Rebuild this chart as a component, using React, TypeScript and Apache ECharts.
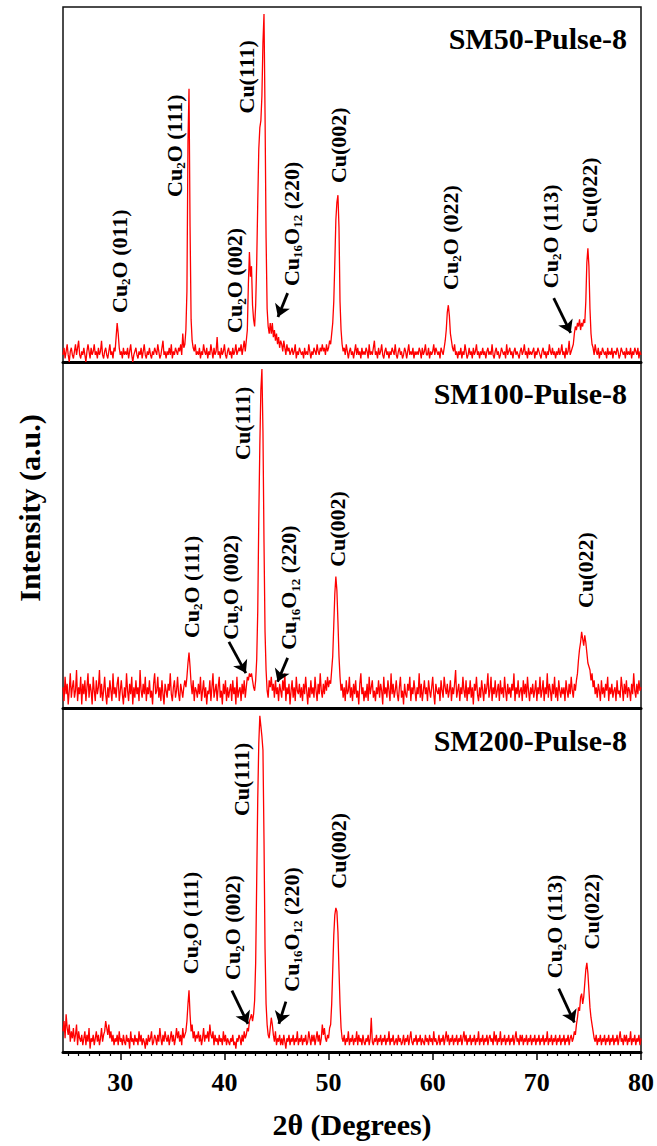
import React, { useEffect, useRef } from "react";
import * as echarts from "echarts";

// ---------- data ----------
const TWO_THETA_MIN = 24.5;
const TWO_THETA_MAX = 80;
const ROW_START = 24.5; // each row = 1 degree, 10 samples of 0.1 degree
const STEP = 0.1;

const MAJOR_TICKS = [30, 40, 50, 60, 70, 80];
const MINOR_TICKS = [25, 26, 27, 28, 29, 31, 32, 33, 34, 35, 36, 37, 38, 39, 41, 42, 43, 44, 45, 46, 47, 48, 49, 51, 52, 53, 54, 55, 56, 57, 58, 59, 61, 62, 63, 64, 65, 66, 67, 68, 69, 71, 72, 73, 74, 75, 76, 77, 78, 79];

const SM50_ROWS: number[][] = [
  [2, 4, 1, 3, 5, 2, 0, 3, 4, 2], [1, 3, 5, 2, 4, 6, 2, 1, 3, 2], [4, 2, 0, 3, 5, 3, 1, 4, 2, 3], [5, 2, 3, 1, 4, 2, 3, 6, 2, 1],
  [3, 4, 2, 1, 3, 5, 2, 3, 1, 4], [3, 7, 11, 8, 4, 2, 3, 1, 4, 2], [3, 2, 4, 1, 3, 5, 2, 0, 2, 3], [4, 2, 1, 3, 2, 4, 1, 3, 5, 2],
  [1, 3, 2, 4, 2, 1, 3, 2, 4, 3], [2, 5, 3, 1, 2, 4, 6, 2, 3, 1], [3, 2, 4, 2, 5, 1, 3, 2, 4, 3], [2, 4, 3, 5, 2, 8, 4, 5, 9, 20],
  [62, 77, 38, 12, 6, 4, 3, 5, 2, 3], [2, 4, 1, 3, 2, 5, 3, 2, 4, 1], [3, 2, 5, 3, 1, 4, 2, 3, 7, 2], [3, 1, 4, 2, 3, 5, 2, 1, 3, 4],
  [2, 3, 1, 4, 2, 3, 5, 2, 3, 4], [3, 5, 2, 4, 6, 3, 6, 9, 22, 31], [24, 27, 16, 12, 10, 16, 28, 45, 60, 66], [68, 75, 90, 98, 70, 35, 15, 10, 8, 11],
  [8, 11, 7, 9, 6, 8, 5, 7, 4, 6], [5, 3, 6, 4, 2, 5, 3, 4, 2, 3], [4, 2, 3, 5, 1, 3, 2, 4, 3, 2], [3, 1, 4, 2, 3, 2, 5, 3, 1, 3],
  [2, 4, 3, 2, 5, 3, 2, 4, 3, 5], [3, 4, 2, 5, 3, 4, 6, 5, 8, 11], [17, 28, 40, 45, 47, 38, 17, 9, 5, 3], [4, 2, 5, 3, 1, 3, 4, 2, 3, 1],
  [3, 5, 2, 4, 2, 3, 1, 4, 2, 3], [2, 4, 3, 1, 5, 2, 3, 2, 4, 6], [2, 3, 1, 4, 2, 3, 5, 2, 1, 3], [4, 2, 3, 1, 3, 2, 4, 3, 2, 5],
  [2, 1, 3, 4, 2, 3, 1, 2, 4, 3], [1, 3, 5, 2, 3, 2, 4, 1, 3, 2], [3, 2, 4, 3, 1, 4, 2, 3, 5, 2], [2, 4, 1, 3, 2, 3, 5, 2, 4, 3],
  [2, 3, 1, 4, 3, 2, 4, 6, 9, 14], [16, 13, 8, 6, 4, 3, 5, 2, 3, 1], [3, 2, 4, 1, 3, 2, 5, 3, 1, 2], [4, 2, 3, 1, 4, 2, 3, 5, 2, 3],
  [1, 3, 2, 4, 2, 3, 1, 3, 4, 2], [3, 2, 5, 2, 1, 3, 4, 2, 3, 1], [2, 4, 3, 2, 3, 1, 5, 2, 3, 4], [2, 3, 1, 3, 4, 2, 3, 2, 1, 3],
  [4, 2, 3, 5, 2, 3, 1, 4, 2, 3], [2, 3, 4, 1, 3, 2, 4, 3, 2, 1], [3, 4, 2, 3, 1, 3, 2, 5, 3, 2], [4, 2, 3, 1, 3, 2, 4, 2, 3, 5],
  [2, 3, 1, 4, 2, 3, 6, 2, 3, 4], [5, 8, 10, 9, 11, 10, 12, 9, 11, 10], [12, 11, 17, 28, 32, 27, 15, 8, 5, 4], [2, 5, 3, 2, 4, 1, 3, 2, 4, 3],
  [2, 3, 1, 4, 2, 3, 2, 4, 1, 3], [3, 2, 4, 3, 1, 2, 4, 3, 2, 3], [1, 4, 2, 3, 2, 4, 1, 3, 2, 4], [3, 2, 4, 1, 3, 2],
];

const SM100_ROWS: number[][] = [
  [6, 2, 9, 4, 7, 1, 5, 10, 3, 6], [8, 3, 5, 11, 2, 6, 4, 9, 1, 7], [4, 8, 2, 6, 10, 3, 7, 5, 1, 9], [5, 2, 8, 4, 6, 11, 3, 7, 2, 5],
  [9, 4, 1, 6, 3, 8, 5, 2, 10, 4], [6, 3, 7, 9, 2, 5, 8, 4, 1, 6], [3, 10, 5, 2, 7, 4, 9, 1, 6, 3], [8, 4, 6, 2, 11, 5, 3, 7, 4, 9],
  [2, 6, 4, 8, 3, 5, 1, 7, 10, 4], [5, 9, 3, 6, 2, 8, 4, 1, 7, 5], [3, 7, 5, 10, 4, 2, 6, 8, 3, 5], [9, 4, 2, 7, 5, 3, 6, 8, 6, 9],
  [13, 16, 12, 7, 4, 8, 2, 6, 5, 3], [7, 4, 9, 2, 5, 8, 3, 6, 1, 5], [4, 8, 2, 6, 10, 3, 5, 7, 2, 6], [9, 3, 5, 1, 7, 4, 8, 2, 6, 3],
  [5, 7, 2, 8, 4, 6, 1, 9, 3, 5], [6, 2, 7, 4, 8, 3, 6, 9, 8, 10], [9, 10, 8, 6, 5, 8, 14, 28, 55, 76], [92, 98, 80, 48, 22, 11, 5, 3, 8, 6],
  [9, 5, 7, 3, 8, 4, 6, 2, 7, 5], [3, 8, 5, 10, 2, 6, 4, 7, 1, 5], [8, 3, 6, 2, 9, 5, 4, 7, 3, 6], [2, 7, 4, 9, 5, 1, 6, 3, 8, 4],
  [6, 3, 9, 5, 2, 7, 4, 10, 5, 3], [7, 4, 8, 5, 9, 6, 8, 7, 11, 15], [24, 33, 38, 34, 25, 15, 9, 5, 7, 3], [6, 2, 8, 4, 5, 9, 3, 6, 2, 7],
  [4, 8, 3, 5, 1, 7, 10, 4, 6, 2], [5, 3, 7, 2, 9, 4, 6, 8, 3, 5], [2, 6, 4, 8, 3, 7, 5, 1, 9, 4], [6, 3, 8, 5, 2, 10, 4, 7, 3, 5],
  [8, 4, 2, 6, 9, 3, 5, 1, 7, 4], [3, 7, 5, 9, 2, 6, 4, 8, 5, 2], [6, 4, 10, 3, 7, 2, 5, 8, 4, 6], [2, 8, 5, 3, 6, 9, 4, 1, 7, 5],
  [4, 6, 2, 8, 5, 3, 9, 6, 4, 7], [3, 5, 8, 2, 6, 4, 7, 11, 3, 5], [7, 2, 6, 4, 9, 5, 3, 8, 2, 6], [4, 8, 3, 6, 1, 7, 5, 9, 4, 2],
  [6, 3, 8, 5, 2, 7, 4, 6, 10, 3], [5, 9, 2, 6, 4, 8, 3, 5, 7, 2], [8, 4, 6, 3, 9, 5, 2, 7, 4, 6], [3, 7, 5, 10, 2, 6, 4, 8, 3, 5],
  [6, 2, 8, 4, 7, 3, 9, 5, 2, 6], [4, 7, 3, 5, 8, 2, 6, 4, 9, 3], [5, 8, 2, 6, 4, 10, 3, 7, 5, 2], [7, 4, 9, 3, 6, 2, 8, 5, 3, 6],
  [4, 6, 2, 8, 5, 3, 7, 4, 9, 5], [3, 7, 5, 8, 10, 14, 17, 19, 22, 20], [18, 21, 19, 16, 13, 12, 11, 8, 10, 6], [8, 4, 6, 3, 7, 5, 2, 8, 4, 6],
  [3, 7, 5, 9, 2, 6, 4, 7, 3, 5], [6, 2, 8, 4, 5, 3, 9, 6, 2, 7], [4, 8, 3, 6, 5, 2, 7, 4, 10, 5], [3, 7, 4, 8, 5, 6],
];

const SM200_ROWS: number[][] = [
  [6, 9, 4, 11, 7, 5, 8, 3, 6, 4], [7, 3, 5, 8, 2, 6, 4, 3, 5, 2], [4, 6, 2, 5, 3, 7, 1, 4, 3, 5], [2, 4, 6, 3, 5, 2, 4, 7, 3, 5],
  [6, 9, 7, 5, 8, 4, 6, 3, 5, 2], [4, 3, 5, 2, 6, 3, 4, 2, 5, 3], [2, 5, 3, 4, 1, 6, 3, 4, 2, 5], [3, 4, 2, 6, 3, 5, 2, 4, 3, 1],
  [4, 2, 5, 3, 4, 6, 2, 3, 5, 4], [2, 5, 3, 7, 4, 2, 5, 3, 6, 4], [3, 5, 2, 4, 6, 3, 5, 2, 4, 7], [4, 6, 3, 5, 2, 7, 4, 5, 6, 9],
  [14, 18, 11, 6, 8, 4, 6, 3, 5, 4], [6, 3, 5, 2, 4, 7, 3, 5, 4, 6], [3, 8, 5, 4, 6, 2, 5, 3, 4, 2], [5, 3, 4, 2, 6, 3, 5, 2, 4, 3],
  [2, 4, 3, 5, 2, 3, 1, 4, 3, 5], [4, 2, 5, 3, 6, 4, 5, 7, 6, 9], [10, 11, 9, 11, 15, 26, 50, 74, 90, 98], [95, 92, 88, 62, 30, 14, 8, 5, 4, 7],
  [10, 8, 5, 3, 6, 2, 4, 3, 5, 2], [4, 2, 5, 3, 1, 4, 3, 5, 2, 4], [3, 5, 2, 4, 3, 6, 2, 4, 3, 5], [2, 4, 3, 5, 2, 3, 6, 4, 2, 5],
  [3, 5, 2, 4, 6, 3, 5, 2, 4, 8], [5, 7, 4, 3, 5, 4, 7, 8, 14, 24], [34, 40, 42, 41, 35, 24, 14, 7, 4, 3], [5, 2, 4, 3, 6, 2, 4, 3, 5, 2],
  [4, 3, 6, 2, 5, 3, 4, 2, 5, 3], [2, 4, 3, 5, 2, 4, 10, 3, 2, 4], [3, 5, 2, 4, 3, 5, 2, 4, 3, 5], [2, 4, 3, 6, 2, 4, 3, 5, 2, 3],
  [4, 2, 5, 3, 4, 2, 3, 5, 2, 4], [3, 5, 2, 4, 6, 3, 2, 4, 3, 5], [2, 4, 3, 5, 2, 4, 3, 2, 5, 3], [4, 2, 5, 3, 4, 2, 6, 3, 4, 2],
  [3, 5, 2, 4, 3, 5, 2, 4, 6, 3], [5, 2, 4, 3, 5, 2, 4, 3, 5, 2], [4, 3, 5, 2, 4, 6, 3, 5, 2, 4], [3, 5, 2, 4, 3, 5, 2, 4, 3, 6],
  [2, 4, 3, 5, 2, 4, 3, 5, 2, 4], [5, 3, 4, 2, 6, 3, 5, 2, 4, 3], [6, 2, 4, 3, 5, 2, 4, 3, 5, 2], [4, 3, 5, 2, 4, 6, 3, 4, 2, 5],
  [3, 5, 2, 4, 3, 5, 2, 4, 3, 5], [2, 4, 3, 5, 2, 4, 3, 5, 2, 4], [3, 5, 2, 4, 3, 6, 2, 4, 3, 5], [2, 4, 3, 5, 2, 4, 3, 5, 2, 4],
  [3, 5, 2, 4, 3, 5, 2, 4, 5, 3], [4, 6, 5, 8, 10, 13, 12, 16, 17, 14], [16, 20, 24, 26, 23, 18, 13, 10, 8, 6], [4, 3, 5, 2, 4, 3, 5, 2, 4, 3],
  [5, 2, 4, 3, 5, 2, 4, 3, 5, 2], [4, 3, 5, 2, 4, 6, 3, 4, 2, 5], [3, 5, 2, 4, 3, 6, 2, 4, 3, 5], [2, 4, 3, 5, 2, 4],
];

// peak labels: x = 2θ of label centre, v = intensity at the label's lower end
const SM50_LABELS = [
  { text: "Cu{s|2}O (011)", x: 29.9, v: 13.8 },
  { text: "Cu{s|2}O (111)", x: 35.2, v: 46.5 },
  { text: "Cu{s|2}O (002)", x: 41.0, v: 8.2 },
  { text: "Cu(111)", x: 42.1, v: 70 },
  { text: "Cu{s|16}O{s|12} (220)", x: 46.4, v: 21.4 },
  { text: "Cu(002)", x: 51.0, v: 50.4 },
  { text: "Cu{s|2}O (022)", x: 61.7, v: 20.3 },
  { text: "Cu{s|2}O (113)", x: 71.3, v: 20.8 },
  { text: "Cu(022)", x: 75.1, v: 36.3 },
];
const SM100_LABELS = [
  { text: "Cu{s|2}O (111)", x: 36.8, v: 20.2 },
  { text: "Cu{s|2}O (002)", x: 40.6, v: 19.7 },
  { text: "Cu(111)", x: 41.7, v: 71.7 },
  { text: "Cu{s|16}O{s|12} (220)", x: 46.2, v: 16.8 },
  { text: "Cu(002)", x: 50.9, v: 40.8 },
  { text: "Cu(022)", x: 74.7, v: 28.9 },
];
const SM200_LABELS = [
  { text: "Cu{s|2}O (111)", x: 36.7, v: 22.7 },
  { text: "Cu{s|2}O (002)", x: 40.8, v: 21 },
  { text: "Cu(111)", x: 41.6, v: 68.8 },
  { text: "Cu{s|16}O{s|12} (220)", x: 46.4, v: 17.6 },
  { text: "Cu(002)", x: 51.0, v: 47.6 },
  { text: "Cu{s|2}O (113)", x: 71.7, v: 21.5 },
  { text: "Cu(022)", x: 75.2, v: 29.9 },
];

// arrows [from, to] in data coordinates
const SM50_ARROWS = [
  [[46.07, 19.4], [45.14, 12.7]],
  [[71.62, 18], [73.25, 8.2]],
];
const SM100_ARROWS = [
  [[40.43, 19.1], [42.06, 10.1]],
  [[46.07, 14.5], [45.1, 7.6]],
];
const SM200_ARROWS = [
  [[40.72, 17.9], [42.26, 8.2]],
  [[45.9, 14.7], [45.23, 8.2]],
  [[72.1, 18.5], [73.6, 8.6]],
];

const PANEL_TITLES = ["SM50-Pulse-8", "SM100-Pulse-8", "SM200-Pulse-8"];
const X_TITLE = "2θ (Degrees)";
const Y_TITLE = "Intensity (a.u.)";

// ---------- layout ----------
const FONT = "'Liberation Serif', 'Times New Roman', serif";
const GRID_LEFT = 63;
const GRID_WIDTH = 578;
const PANEL_BOXES = [
  { top: 7, height: 355 },
  { top: 362, height: 346 },
  { top: 709, height: 343 },
];

function toPoints(rows: number[][]) {
  const pts: number[][] = [];
  rows.forEach((row, k) => {
    row.forEach((v, j) => {
      pts.push([+(ROW_START + k + j * STEP).toFixed(2), v]);
    });
  });
  return pts;
}

const PANELS = [
  { rows: SM50_ROWS, labels: SM50_LABELS, arrows: SM50_ARROWS },
  { rows: SM100_ROWS, labels: SM100_LABELS, arrows: SM100_ARROWS },
  { rows: SM200_ROWS, labels: SM200_LABELS, arrows: SM200_ARROWS },
];

export default function App() {
  const ref = useRef<HTMLDivElement | null>(null);

  useEffect(() => {
    if (!ref.current) return;
    const chart = echarts.init(ref.current, null, { renderer: "svg" });

    const grid = PANEL_BOXES.map((b) => ({
      left: GRID_LEFT,
      top: b.top,
      width: GRID_WIDTH,
      height: b.height,
      show: true,
      borderColor: "#111",
      borderWidth: 1.5,
      backgroundColor: "transparent",
      containLabel: false,
      outerBoundsMode: "none",
    }));

    const xAxis: any[] = [0, 1, 2].map((k) => ({
      type: "value",
      gridIndex: k,
      min: TWO_THETA_MIN,
      max: TWO_THETA_MAX,
      position: "bottom",
      axisLine: { show: true, onZero: false, lineStyle: { color: "#000", width: 3 } },
      axisTick:
        k === 2
          ? { show: true, inside: false, length: 8, customValues: MAJOR_TICKS, lineStyle: { color: "#000", width: 1.5 } }
          : { show: false },
      axisLabel:
        k === 2
          ? {
              show: true,
              customValues: MAJOR_TICKS,
              margin: 17,
              fontFamily: FONT,
              fontWeight: "bold",
              fontSize: 26,
              color: "#000",
            }
          : { show: false },
      splitLine: { show: false },
    }));
    xAxis.push({
      type: "value",
      gridIndex: 2,
      min: TWO_THETA_MIN,
      max: TWO_THETA_MAX,
      position: "bottom",
      axisLine: { show: false, onZero: false },
      axisTick: { show: true, inside: false, length: 4, customValues: MINOR_TICKS, lineStyle: { color: "#000", width: 1.2 } },
      axisLabel: { show: false },
      splitLine: { show: false },
    });

    const yAxis = [0, 1, 2].map((k) => ({
      type: "value",
      gridIndex: k,
      min: 0,
      max: 100,
      show: false,
      splitLine: { show: false },
    }));

    const series = PANELS.map((p, k) => ({
      type: "line",
      xAxisIndex: k,
      yAxisIndex: k,
      data: toPoints(p.rows),
      showSymbol: false,
      symbol: "none",
      lineStyle: { color: "#ff0000", width: 1.3 },
      emphasis: { disabled: true },
      silent: true,
      z: 2,
      markLine: {
        silent: true,
        symbol: ["none", "arrow"],
        symbolSize: 12,
        lineStyle: { color: "#000", width: 2.8, type: "solid" },
        label: { show: false },
        emphasis: { disabled: true },
        data: p.arrows.map((a) => [{ coord: a[0] }, { coord: a[1] }]),
      },
    }));

    chart.setOption({
      animation: false,
      backgroundColor: "#fff",
      grid,
      xAxis,
      yAxis,
      series,
    });

    const rich = {
      s: { fontSize: 13, lineHeight: 13, verticalAlign: "bottom", fontFamily: FONT, fontWeight: "bold", fill: "#000" },
    };

    const graphic: any[] = [];
    PANELS.forEach((p, k) => {
      p.labels.forEach((l) => {
        const pt = chart.convertToPixel({ xAxisIndex: k, yAxisIndex: k } as any, [l.x, l.v]) as number[];
        graphic.push({
          type: "text",
          x: pt[0],
          y: pt[1],
          rotation: Math.PI / 2,
          z: 100,
          silent: true,
          style: {
            text: l.text,
            x: 0,
            y: 0,
            align: "left",
            verticalAlign: "middle",
            fontFamily: FONT,
            fontWeight: "bold",
            fontSize: 22,
            lineHeight: 26,
            fill: "#000",
            rich,
          },
        });
      });
      const b = PANEL_BOXES[k];
      graphic.push({
        type: "text",
        x: 627,
        y: b.top + 31,
        z: 100,
        silent: true,
        style: {
          text: PANEL_TITLES[k],
          align: "right",
          verticalAlign: "middle",
          fontFamily: FONT,
          fontWeight: "bold",
          fontSize: 30,
          fill: "#000",
        },
      });
    });
    graphic.push({
      type: "text",
      x: 29,
      y: 508,
      rotation: Math.PI / 2,
      z: 100,
      silent: true,
      style: {
        text: Y_TITLE,
        align: "center",
        verticalAlign: "middle",
        fontFamily: FONT,
        fontWeight: "bold",
        fontSize: 30,
        fill: "#000",
      },
    });
    graphic.push({
      type: "text",
      x: 352,
      y: 1124,
      z: 100,
      silent: true,
      style: {
        text: X_TITLE,
        align: "center",
        verticalAlign: "middle",
        fontFamily: FONT,
        fontWeight: "bold",
        fontSize: 30,
        fill: "#000",
      },
    });

    chart.setOption({ graphic });

    return () => {
      chart.dispose();
    };
  }, []);

  return (
    <div
      ref={ref}
      style={{ position: "absolute", left: 0, top: 0, width: 657, height: 1146, background: "#fff" }}
    />
  );
}
